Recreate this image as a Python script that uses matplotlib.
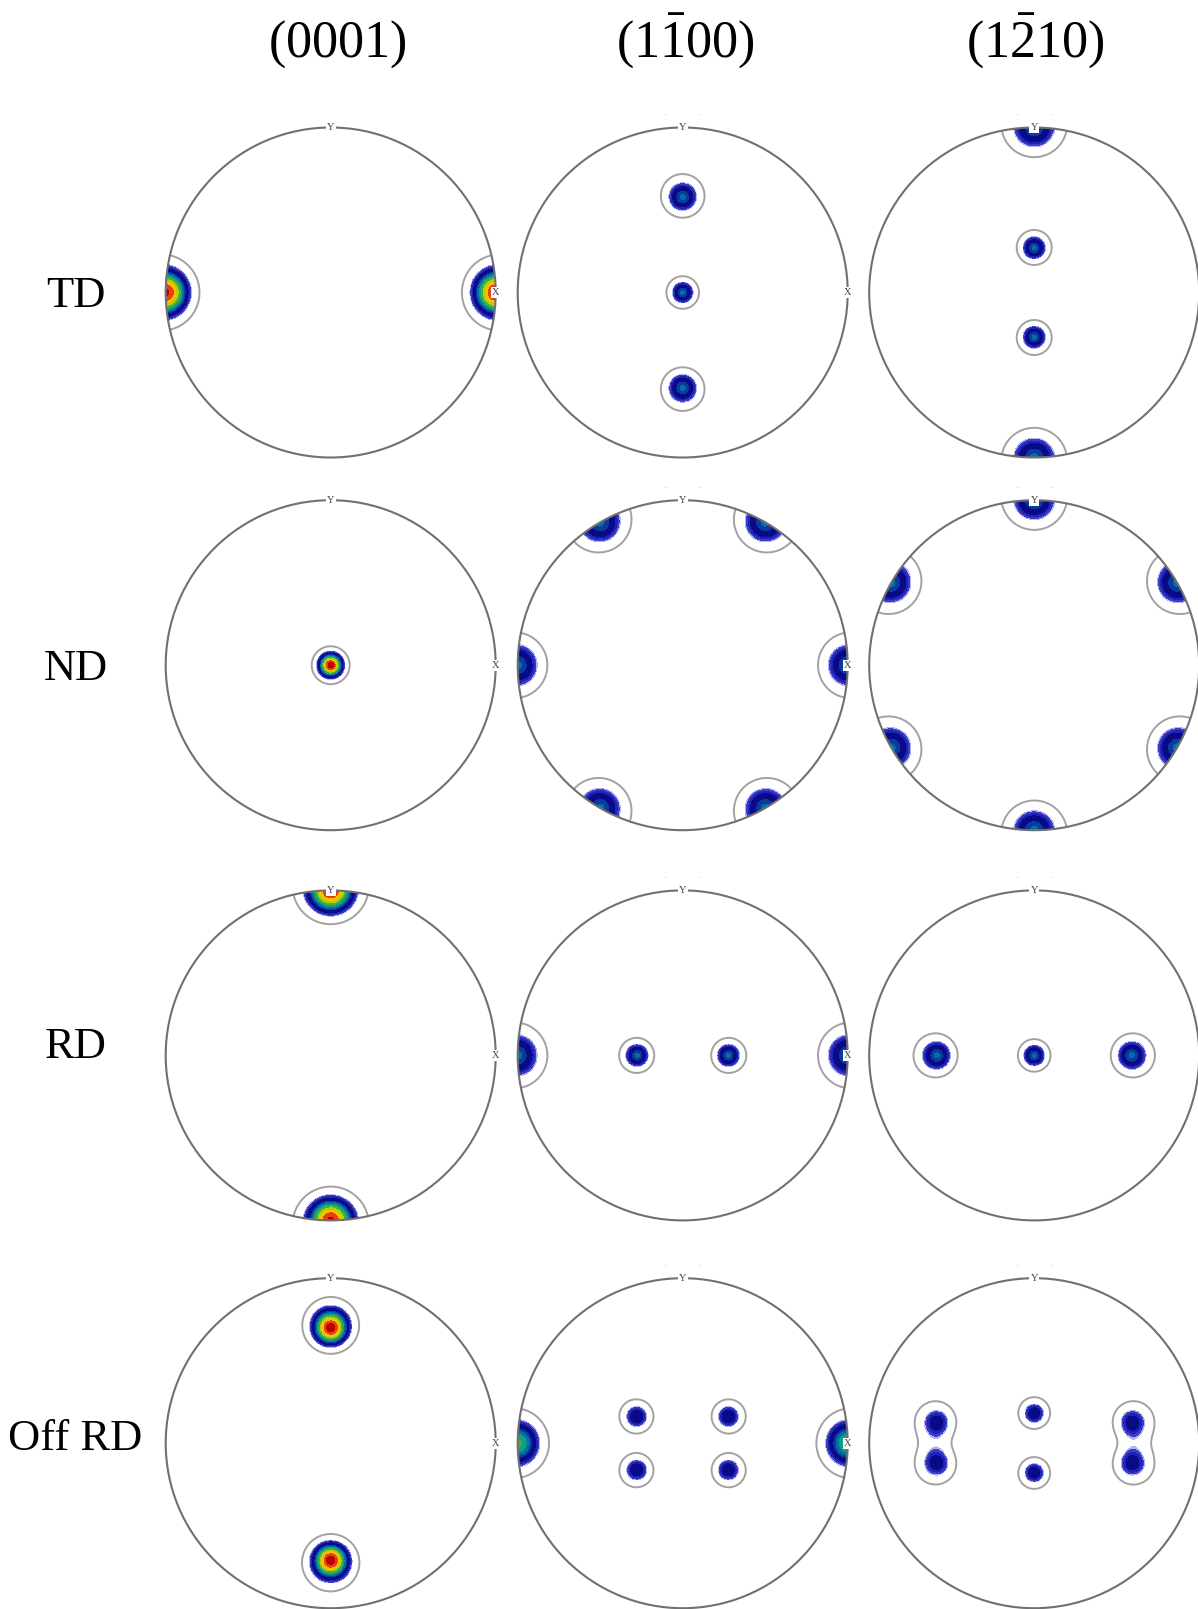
import numpy as np
import matplotlib
matplotlib.use("Agg")
import matplotlib.pyplot as plt
from matplotlib.colors import ListedColormap, BoundaryNorm
from matplotlib.patches import Circle

plt.rcParams["font.family"] = ["Liberation Serif", "DejaVu Serif"]
plt.rcParams["mathtext.fontset"] = "custom"
plt.rcParams["mathtext.rm"] = "Liberation Serif"

# ---- labels -------------------------------------------------------------
plane_titles = [r"$\mathrm{(0001)}$", r"$\mathrm{(1\bar{1}00)}$", r"$\mathrm{(1\bar{2}10)}$"]
directions = ["TD", "ND", "RD", "Off RD"]

# ---- pole positions (stereographic x, y) and peak intensities ------------
td_0001_x = [-1.0, 1.0]
td_0001_y = [0.0, 0.0]
td_0001_peak = [4.7, 4.7]
td_1100_x = [0.0, 0.0, 0.0]
td_1100_y = [0.578, 0.0, -0.578]
td_1100_peak = [3.2, 3.2, 3.2]
td_1210_x = [0.0, 0.0, 0.0, 0.0]
td_1210_y = [1.0, 0.27, -0.27, -1.0]
td_1210_peak = [3.2, 3.2, 3.2, 3.2]

nd_0001_x = [0.0]
nd_0001_y = [0.0]
nd_0001_peak = [4.8]
nd_1100_x = [1.0, 0.5, -0.5, -1.0, -0.5, 0.5]
nd_1100_y = [0.0, 0.866, 0.866, 0.0, -0.866, -0.866]
nd_1100_peak = [3.2, 3.2, 3.2, 3.2, 3.2, 3.2]
nd_1210_x = [0.0, -0.866, -0.866, 0.0, 0.866, 0.866]
nd_1210_y = [1.0, 0.5, -0.5, -1.0, -0.5, 0.5]
nd_1210_peak = [3.2, 3.2, 3.2, 3.2, 3.2, 3.2]

rd_0001_x = [0.0, 0.0]
rd_0001_y = [1.0, -1.0]
rd_0001_peak = [4.7, 4.7]
rd_1100_x = [-1.0, -0.276, 0.276, 1.0]
rd_1100_y = [0.0, 0.0, 0.0, 0.0]
rd_1100_peak = [3.2, 3.2, 3.2, 3.2]
rd_1210_x = [-0.59, 0.0, 0.59]
rd_1210_y = [0.0, 0.0, 0.0]
rd_1210_peak = [3.2, 3.2, 3.2]

off_0001_x = [0.0, 0.0]
off_0001_y = [0.70, -0.71]
off_0001_peak = [4.8, 4.8]
off_1100_x = [-1.0, -0.278, 0.276, -0.278, 0.276, 1.0]
off_1100_y = [0.0, 0.161, 0.161, -0.162, -0.162, 0.0]
off_1100_peak = [3.7, 2.85, 2.85, 2.85, 2.85, 3.7]
off_1210_x = [-0.591, -0.591, 0.0, 0.0, 0.595, 0.595]
off_1210_y = [0.128, -0.124, 0.181, -0.179, 0.128, -0.124]
off_1210_peak = [2.7, 2.7, 2.82, 2.82, 2.7, 2.7]

panels = [
    [(td_0001_x, td_0001_y, td_0001_peak), (td_1100_x, td_1100_y, td_1100_peak), (td_1210_x, td_1210_y, td_1210_peak)],
    [(nd_0001_x, nd_0001_y, nd_0001_peak), (nd_1100_x, nd_1100_y, nd_1100_peak), (nd_1210_x, nd_1210_y, nd_1210_peak)],
    [(rd_0001_x, rd_0001_y, rd_0001_peak), (rd_1100_x, rd_1100_y, rd_1100_peak), (rd_1210_x, rd_1210_y, rd_1210_peak)],
    [(off_0001_x, off_0001_y, off_0001_peak), (off_1100_x, off_1100_y, off_1100_peak), (off_1210_x, off_1210_y, off_1210_peak)],
]

spread_deg = 7.4          # angular half-width of each pole
outline_level = 1.0       # grey iso-line
fill_levels = [2.0, 2.12, 2.3, 2.5, 2.95, 3.15, 3.4, 3.65, 3.9, 4.15, 4.4, 4.65, 4.9]
band_colors = ["#b4b4ec", "#3c3cc8", "#1c24b4", "#0a0a88", "#0a3a9c", "#0070a8",
               "#10a080", "#4cb038", "#b8cc10", "#f2c400", "#e84010", "#b80000"]
cmap = ListedColormap(band_colors)
cmap.set_over("#800000")
norm = BoundaryNorm(fill_levels, cmap.N)


def to_sphere(x, y):
    """Inverse stereographic projection onto the unit sphere."""
    r2 = x ** 2 + y ** 2
    d = 1.0 + r2
    return 2 * x / d, 2 * y / d, (1 - r2) / d


def density(gx, gy, px, py, peak):
    ux, uy, uz = to_sphere(gx, gy)
    f = np.zeros_like(gx)
    s = np.radians(spread_deg)
    for x0, y0, a in zip(px, py, peak):
        vx, vy, vz = to_sphere(np.float64(x0), np.float64(y0))
        ang = np.arccos(np.clip(ux * vx + uy * vy + uz * vz, -1, 1))
        f += a * np.exp(-ang ** 2 / (2 * s ** 2))
    return f


W, H = 1198, 1609
fig = plt.figure(figsize=(W / 100, H / 100), dpi=100)

col_cx = [330.7, 682.7, 1034.2]
row_cy = [292.5, 665.2, 1055.4, 1443.2]
R = 165.0
pad = 1.15

g = np.linspace(-pad, pad, 700)
GX, GY = np.meshgrid(g, g)

for i, row in enumerate(panels):
    for j, (px, py, peak) in enumerate(row):
        cx, cy = col_cx[j], row_cy[i]
        ax = fig.add_axes([(cx - pad * R) / W, (H - cy - pad * R) / H, 2 * pad * R / W, 2 * pad * R / H])
        ax.set_xlim(-pad, pad)
        ax.set_ylim(-pad, pad)
        ax.set_aspect("equal")
        ax.axis("off")

        F = density(GX, GY, px, py, peak)
        clip = Circle((0, 0), 1.0, transform=ax.transData)
        cf = ax.contourf(GX, GY, F, levels=fill_levels, cmap=cmap, norm=norm, extend="max")
        cf.set_clip_path(clip)
        cl = ax.contour(GX, GY, F, levels=[outline_level], colors="#a2a2a2", linewidths=1.4)
        cl.set_clip_path(clip)

        ax.add_patch(Circle((0, 0), 1.0, fill=False, ec="#707070", lw=1.5, zorder=5))
        box = dict(fc="white", ec="none", pad=0.8)
        ax.text(0, 1.0, "Y", ha="center", va="center", fontsize=7.5, color="#404040",
                bbox=box, zorder=6)
        if j < 2:
            ax.text(1.0, 0, "X", ha="center", va="center", fontsize=7.5, color="#404040",
                    bbox=box, zorder=6)
        if j > 0:
            for sx in (-0.1, 0.1):
                ax.text(sx, 1.075, "-", ha="center", va="center", fontsize=5, color="#b8b8b8")

for j, t in enumerate(plane_titles):
    fig.text([337.8, 685.8, 1035.8][j] / W, 1 - 56.5 / H, t, ha="center", va="baseline",
             fontsize=37.5)

for i, d in enumerate(directions):
    fig.text(75.5 / W, 1 - [306.7, 679.6, 1058.4, 1450.5][i] / H, d, ha="center",
             va="baseline", fontsize=32)

fig.savefig("out.png", dpi=100, facecolor="white")
